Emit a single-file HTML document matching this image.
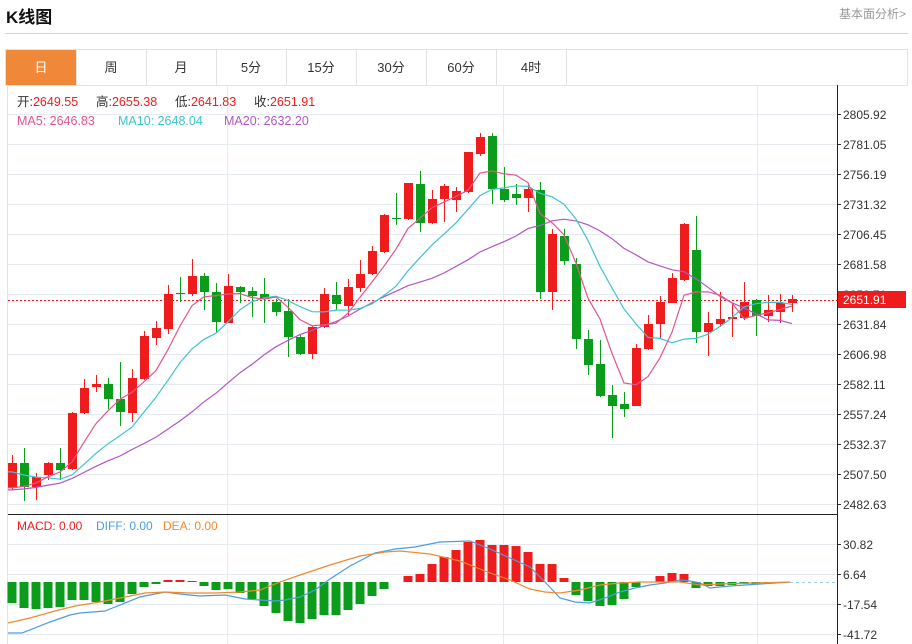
<!DOCTYPE html>
<html><head><meta charset="utf-8">
<style>
html,body{margin:0;padding:0;background:#fff;width:912px;height:644px;overflow:hidden;font-family:"Liberation Sans","Noto Sans CJK SC",sans-serif;}
.t{position:absolute;white-space:nowrap;}
</style></head>
<body>
<div class="t" style="left:6px;top:3px;font-size:17px;font-weight:bold;color:#111;">K线图</div>
<div class="t" style="left:839px;top:5px;font-size:12px;color:#999;">基本面分析&gt;</div>
<div style="position:absolute;left:5px;top:33px;width:903px;height:1px;background:#d4d4d4"></div>
<svg width="912" height="644" style="position:absolute;left:0;top:0" id="s" xmlns="http://www.w3.org/2000/svg" font-family="Liberation Sans, Noto Sans CJK SC, sans-serif"></svg>
<script>
var s=document.getElementById('s'),h='';
function L(x1,y1,x2,y2,c,w,d){h+='<line x1="'+x1+'" y1="'+y1+'" x2="'+x2+'" y2="'+y2+'" stroke="'+c+'" stroke-width="'+(w||1)+'"'+(d?' stroke-dasharray="'+d+'"':'')+'/>';}
function R(x,y,w,hh,f,st){h+='<rect x="'+x+'" y="'+y+'" width="'+w+'" height="'+hh+'" fill="'+f+'"'+(st?' stroke="'+st+'"':'')+'/>';}
function T(x,y,t,c,sz,a){h+='<text x="'+x+'" y="'+y+'" fill="'+c+'" font-size="'+(sz||12)+'"'+(a?' text-anchor="'+a+'"':'')+'>'+t+'</text>';}
function P(pts,c){h+='<polyline fill="none" stroke="'+c+'" stroke-width="1.2" points="'+pts.map(function(p){return p[0]+','+p[1]}).join(' ')+'"/>';}
R(5.5,49.5,902,36,'#fff','#e3e3e3');
var tabs=['日','周','月','5分','15分','30分','60分','4时'];
for(var i=0;i<8;i++){var x=6+i*70;if(i==0)R(x,50,70,35,'#f0883a');L(x+70.5,50,x+70.5,85,'#e3e3e3');T(x+35,72,tabs[i],i==0?'#fff':'#333',13,'middle');}
L(7.5,85,7.5,644,'#e3e3e3');
var ty=[114,144,174,204,234,264,294,324,354,384,414,444,474,504];
var tl=['2805.92','2781.05','2756.19','2731.32','2706.45','2681.58','2656.71','2631.84','2606.98','2582.11','2557.24','2532.37','2507.50','2482.63'];
for(var i=0;i<ty.length;i++){L(8,ty[i]+.5,837,ty[i]+.5,'#e6ebf1');L(837,ty[i]+.5,841,ty[i]+.5,'#333');T(843,ty[i]+5,tl[i],'#333',12);}
var my=[544,574,604,634],ml=['30.82','6.64','-17.54','-41.72'];
for(var i=0;i<4;i++){L(8,my[i]+.5,837,my[i]+.5,'#e6ebf1');L(837,my[i]+.5,841,my[i]+.5,'#333');T(843,my[i]+5,ml[i],'#333',12);}
[227,503,757].forEach(function(x){L(x+.5,85,x+.5,644,'#e6ebf1');});
L(8,514.5,837,514.5,'#222');
L(837.5,85,837.5,644,'#222');
var C=[[463,488,455,490,'r'],[463,487,448,501,'g'],[477,487,473,500,'r'],[463,475,462,480,'r'],[463,470,448,480,'g'],
[413,469,412,470,'r'],[388,413,379,414,'r'],[384,387,375,392,'r'],[384,399,378,409,'g'],[399,412,362,426,'g'],
[378,413,369,422,'r'],[336,379,331,380,'r'],[328,338,321,345,'r'],[294,329,285,334,'r'],[293,294,277,302,'g'],
[276,294,259,296,'r'],[276,292,273,310,'g'],[292,322,283,332,'g'],[286,323,274,323,'r'],[287,292,286,303,'g'],
[291,296,287,317,'g'],[294,299,278,323,'g'],[302,312,299,316,'g'],[311,337,299,357,'g'],[337,354,335,355,'g'],
[327,354,326,359,'r'],[294,327,288,328,'r'],[295,304,282,310,'g'],[287,306,279,315,'r'],[274,288,260,292,'r'],
[251,274,246,275,'r'],[215,252,214,253,'r'],[218,219,193,225,'g'],[183,219,183,220,'r'],[184,223,171,232,'g'],
[199,223,190,224,'r'],[186,199,184,222,'r'],[191,200,187,212,'r'],[152,192,152,193,'r'],[137,154,133,156,'r'],
[136,189,133,204,'g'],[189,200,167,202,'g'],[194,198,184,205,'g'],[189,198,185,212,'r'],[190,292,182,299,'g'],
[234,292,229,310,'r'],[236,261,229,265,'g'],[264,339,258,349,'g'],[339,365,330,375,'g'],[364,396,340,397,'g'],
[395,406,385,438,'g'],[404,409,392,417,'g'],[348,406,344,406,'r'],[324,349,315,350,'r'],[302,324,296,338,'r'],
[278,303,273,303,'r'],[224,280,223,281,'r'],[250,332,216,343,'g'],[323,332,312,356,'r'],[319,324,292,327,'r'],
[317,319,303,337,'r'],[302,318,282,320,'r'],[300,316,299,336,'g'],[310,316,295,322,'r'],[303,312,294,323,'r'],[299,303,295,312,'r']];
var RED='#ee1c1c',GRN='#0b9c1c';
var closes=[508,508,508,508,508,508,508,508,508,508,456,456,456,456,456,494,494,494,494];
var n0=closes.length;
C.forEach(function(c){closes.push(c[4]=='r'?c[0]:c[1]);});
function ma(k){var pts=[];for(var i=0;i<C.length;i++){var j=i+n0,sm=0;for(var q=0;q<k;q++)sm+=closes[j-q];pts.push([12+i*12,(sm/k).toFixed(1)]);}pts.unshift([8,pts[0][1]]);return pts;}
L(8,300.5,837,300.5,RED,1,'2,2');
C.forEach(function(c,i){var x=12+i*12,col=c[4]=='r'?RED:GRN;L(x+.5,c[2],x+.5,c[3],col,1);R(x-4,c[0],9,Math.max(1,c[1]-c[0]),col);});
P(ma(20),'#b255c5');P(ma(10),'#3cc3cf');P(ma(5),'#e2558c');
R(838,291,68,17,RED);T(843,304,'2651.91','#fff',12);
// legend
var lg=[[17,'开:'],[96,'高:'],[175,'低:'],[254,'收:']],lv=['2649.55','2655.38','2641.83','2651.91'];
lg.forEach(function(g,i){h+='<text x="'+g[0]+'" y="106" font-size="12.5" fill="#333">'+g[1]+'<tspan fill="'+RED+'">'+lv[i]+'</tspan></text>';});
T(17,125,'MA5: 2646.83','#e2558c',12.5);T(118,125,'MA10: 2648.04','#3cc3cf',12.5);T(224,125,'MA20: 2632.20','#b255c5',12.5);
T(17,530,'MACD: 0.00',RED,12);T(96,530,'DIFF: 0.00','#4a9ee0',12);T(163,530,'DEA: 0.00','#f08a30',12);
var Z=582;
var M=[603,608,609,608,607,600,600,602,604,602,594,587,584,580,580,581,586,590,589,593,599,606,613,621,623,619,615,615,610,604,596,589,582,576,574,564,557,550,542,540,545,545,546,552,564,564,578,595,601,606,605,599,587,582,576,573,574,588,586,586,585,584,584,583,582,582];
M.forEach(function(v,i){var x=12+i*12;if(Math.abs(v-Z)<1)return;var col=v<Z?RED:GRN;R(x-4.5,Math.min(v,Z),9,Math.abs(v-Z),col);});
L(790,Z+.5,837,Z+.5,'#9cc8e8',1,'3,3');
P([[8,633],[22,633],[50,622],[70,615],[80,613],[105,611],[115,607],[140,597],[150,595],[165,592],[180,594],[200,596],[225,595],[245,599],[275,601],[285,600],[300,597],[315,590],[330,579],[350,566],[375,553],[395,549],[415,547],[440,542],[470,541],[490,549],[510,558],[530,567],[545,582],[560,598],[575,602],[590,603],[605,598],[620,592],[635,588],[650,585],[665,583],[680,580],[690,581],[700,583],[710,588],[730,586],[760,584],[790,582]],'#4a9ee0');
P([[8,623],[30,618],[55,611],[75,606],[100,602],[125,597],[145,593],[165,592],[190,593],[215,593],[240,592],[260,590],[280,582],[300,575],[330,565],[360,556],[385,552],[400,551],[430,554],[460,561],[490,573],[510,580],[530,589],[545,592],[560,593],[580,590],[600,585],[620,583],[640,582],[680,582],[700,585],[720,584],[790,582]],'#f08a30');
s.innerHTML=h;
</script>
</body></html>
